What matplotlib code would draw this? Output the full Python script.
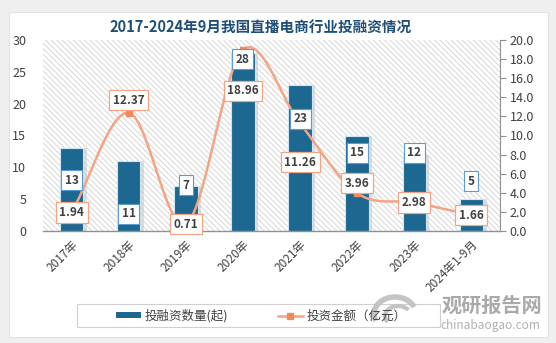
import matplotlib
matplotlib.use("Agg")
import matplotlib.pyplot as plt
import numpy as np
from matplotlib.patches import Rectangle, Arc
from matplotlib.lines import Line2D
from matplotlib.transforms import IdentityTransform

plt.rcParams['font.family'] = ['Noto Sans CJK SC', 'DejaVu Sans']
plt.rcParams['hatch.linewidth'] = 0.6

categories = ["2017年", "2018年", "2019年", "2020年", "2021年", "2022年", "2023年", "2024年1-9月"]
deal_counts = [13, 11, 7, 28, 23, 15, 12, 5]
amounts = [1.94, 12.37, 0.71, 18.96, 11.26, 3.96, 2.98, 1.66]
left_ticks = [0, 5, 10, 15, 20, 25, 30]
right_ticks = [0.0, 2.0, 4.0, 6.0, 8.0, 10.0, 12.0, 14.0, 16.0, 18.0, 20.0]

# label placement (left-axis units for bar labels, right-axis units for line labels)
bar_label_y = [8.0, 2.7, 7.2, 27.0, 17.6, 12.3, 12.3, 7.8]
line_label_y = [1.94, 13.7, 0.71, 14.7, 7.2, 5.0, 2.98, 1.66]

BAR = '#1D6891'
LINE = '#F4A383'
MARK = '#EE8B5E'
TXT = '#404040'

fig = plt.figure(figsize=(5.56, 3.43), dpi=100)
fig.patch.set_facecolor('#EFEFEF')
fig.add_artist(Rectangle((9/556, 1-337/343), (548-9)/556, (337-12)/343,
                         transform=fig.transFigure, facecolor='white',
                         edgecolor='#E2E2E2', linewidth=0.8, zorder=0))

ax = fig.add_axes([43/556, 1-231/343, (500-43)/556, (231-40)/343])
ax.set_facecolor('white')
ax.add_patch(Rectangle((0, 0), 1, 1, transform=ax.transAxes, facecolor='white',
                       edgecolor='#D0D0D0', hatch='\\\\\\\\\\\\', linewidth=0, zorder=0))
x = np.arange(len(categories))
ax.bar(x + 0.06, deal_counts, width=0.41, color='#C8C8C8', alpha=0.6, zorder=1)
ax.bar(x, deal_counts, width=0.41, color=BAR, edgecolor='#CFE3F2', linewidth=0.8, zorder=2)
ax.set_xlim(-0.5, len(categories) - 0.5)
ax.set_ylim(0, 30)
ax.set_yticks(left_ticks)
ax.set_yticklabels([str(t) for t in left_ticks], fontsize=9, color=TXT)
ax.set_xticks(x)
ax.set_xticklabels(categories, rotation=45, ha='right', rotation_mode='anchor',
                   fontsize=8.5, color=TXT)
ax.tick_params(axis='y', length=0, pad=12)
ax.tick_params(axis='x', length=0, pad=5)
for s in ['top', 'right', 'left']:
    ax.spines[s].set_visible(False)
ax.spines['bottom'].set_color('#909090')
ax.spines['bottom'].set_linewidth(1.0)

ax2 = ax.twinx()
ax2.set_ylim(0, 20)
ax2.set_yticks(right_ticks)
ax2.set_yticklabels([f"{t:.1f}" for t in right_ticks], fontsize=9, color=TXT)
ax2.tick_params(axis='y', length=4, color='#909090', pad=3)
for s in ['top', 'left', 'bottom']:
    ax2.spines[s].set_visible(False)
ax2.spines['right'].set_color('#909090')

# smooth curve (Catmull-Rom) through the data points
px = x.astype(float)
py = np.array(amounts, dtype=float)
P = np.column_stack([px, py])
P_ext = np.vstack([2 * P[0] - P[1], P, 2 * P[-1] - P[-2]])
cx, cy = [], []
for i in range(1, len(P_ext) - 2):
    p0, p1, p2, p3 = P_ext[i - 1], P_ext[i], P_ext[i + 1], P_ext[i + 2]
    t = np.linspace(0, 1, 30)[:, None]
    c = 0.5 * ((2 * p1) + (-p0 + p2) * t + (2 * p0 - 5 * p1 + 4 * p2 - p3) * t ** 2 +
               (-p0 + 3 * p1 - 3 * p2 + p3) * t ** 3)
    cx.extend(c[:, 0]); cy.extend(c[:, 1])
ax2.plot(cx, cy, color=LINE, linewidth=1.8, zorder=3)
ax2.plot(px, py, linestyle='none', marker='s', markersize=4, color=MARK, zorder=4)

# bar labels (drawn on ax2 so they sit above the line)
for xi, yv, v in zip(x, bar_label_y, deal_counts):
    ax2.text(xi, yv * 20 / 30, str(v), ha='center', va='center', fontsize=8.5, color=TXT,
             fontweight='bold', zorder=6,
             bbox=dict(boxstyle='square,pad=0.3', facecolor='white', edgecolor='#5B9BD5', linewidth=0.8))

for xi, yv, v in zip(x, line_label_y, amounts):
    ax2.text(xi, yv, f"{v:.2f}", ha='center', va='center', fontsize=8.5, color=TXT,
             fontweight='bold', zorder=7,
             bbox=dict(boxstyle='square,pad=0.3', facecolor='white', edgecolor=LINE, linewidth=0.9))

fig.text(261/556, 1-28/343, "2017-2024年9月我国直播电商行业投融资情况", ha='center', va='center',
         fontsize=10.5, fontweight='bold', color='#1F4E79')

# legend
fig.add_artist(Rectangle((77/556, 1-327/343), (440-77)/556, (327-304)/343,
                         transform=fig.transFigure, facecolor='white',
                         edgecolor='#D0D0D0', linewidth=0.8, zorder=1))
handles = [Rectangle((0, 0), 1, 1, facecolor=BAR, edgecolor='none'),
           Line2D([], [], color=LINE, marker='s', markerfacecolor=MARK, markeredgecolor=MARK,
                  markersize=4, linewidth=1.8)]
fig.legend(handles, ["投融资数量(起)", "投资金额（亿元）"], loc='center',
           bbox_to_anchor=(261/556, 1-316/343), ncol=2, frameon=False, fontsize=9,
           handlelength=2.0, handleheight=0.4, handletextpad=0.3, columnspacing=4.0,
           labelcolor=TXT)

# watermark
fig.add_artist(Arc((395, 343 - 314), 42, 34, angle=0, theta1=20, theta2=200,
                   transform=IdentityTransform(), color='#C4C4C4', linewidth=4, zorder=5))
fig.add_artist(Arc((398, 343 - 316), 26, 20, angle=0, theta1=30, theta2=210,
                   transform=IdentityTransform(), color='#C4C4C4', linewidth=3, zorder=5))
fig.text(492/556, 1-305/343, "观研报告网", ha='center', va='center', fontsize=14.5,
         fontweight='bold', color='#A0A0A0', alpha=0.9, zorder=6)
fig.text(490/556, 1-325/343, "chinabaogao.com", ha='center', va='center', fontsize=8.5,
         color='#A8A8A8', alpha=0.9, zorder=6)

fig.savefig('out.png', dpi=100, facecolor=fig.get_facecolor())
